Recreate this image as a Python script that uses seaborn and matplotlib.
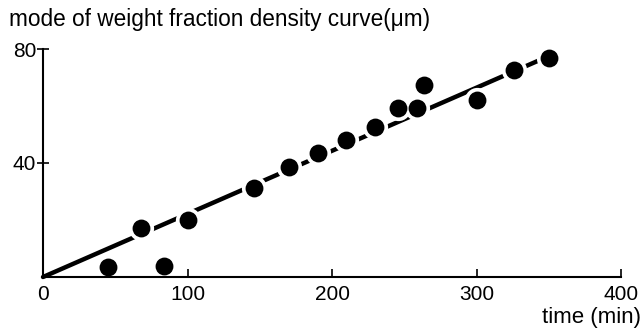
import matplotlib
matplotlib.use("Agg")
import matplotlib.pyplot as plt
import seaborn as sns
import pandas as pd

# data
time_min = [45, 68, 84, 100, 146, 170, 190, 210, 230, 246, 259, 264, 300, 326, 350]
mode_um = [3.5, 17.2, 3.9, 20.0, 31.2, 38.6, 43.5, 48.0, 52.6, 59.3, 59.3, 67.4, 62.0, 72.6, 77.0]
fit_x = [0, 350]
fit_y = [0, 77.5]
x_ticks = [0, 100, 200, 300, 400]
y_ticks = [40, 80]

sns.set_theme(style="white")
plt.rcParams["font.family"] = ["Liberation Sans", "DejaVu Sans"]

pts = pd.DataFrame({"t": time_min, "m": mode_um})
fit = pd.DataFrame({"t": fit_x, "m": fit_y})

fig = plt.figure(figsize=(6.43, 3.28), dpi=100)
ax = fig.add_axes([0.0669, 0.1555, 0.8989, 0.6951])

sns.lineplot(data=fit, x="t", y="m", ax=ax, color="black", linewidth=3.2,
             zorder=1.5, clip_on=False)
# white halos creating gaps in the line around the dots
sns.scatterplot(data=pts, x="t", y="m", ax=ax, color="white", s=330,
                linewidth=0, zorder=1.8, clip_on=False)
sns.scatterplot(data=pts, x="t", y="m", ax=ax, color="black", s=165,
                linewidth=0, zorder=2, clip_on=False)

ax.set_xlim(0, 400)
ax.set_ylim(0, 80)
ax.set_xticks(x_ticks)
ax.set_yticks(y_ticks)
ax.set_xticklabels([str(v) for v in x_ticks])
ax.set_yticklabels([str(v) for v in y_ticks])
ax.set_xlabel("")
ax.set_ylabel("")
for side in ["top", "right"]:
    ax.spines[side].set_visible(False)
for side in ["left", "bottom"]:
    ax.spines[side].set_color("black")
    ax.spines[side].set_linewidth(1.5)
    ax.spines[side].set_zorder(3)
ax.tick_params(axis="x", direction="in", length=6, width=1.2, colors="black",
               labelsize=15, pad=6, bottom=True)
ax.tick_params(axis="y", direction="inout", length=8, width=1.2, colors="black",
               labelsize=15, pad=1, left=True)

fig.text(0.014, 0.94, "mode of weight fraction density curve(μm)", fontsize=16.3,
         ha="left", va="center", color="black")
fig.text(0.997, 0.032, "time (min)", fontsize=16, ha="right", va="center",
         color="black")

fig.savefig("out.png", dpi=100, facecolor="white")
